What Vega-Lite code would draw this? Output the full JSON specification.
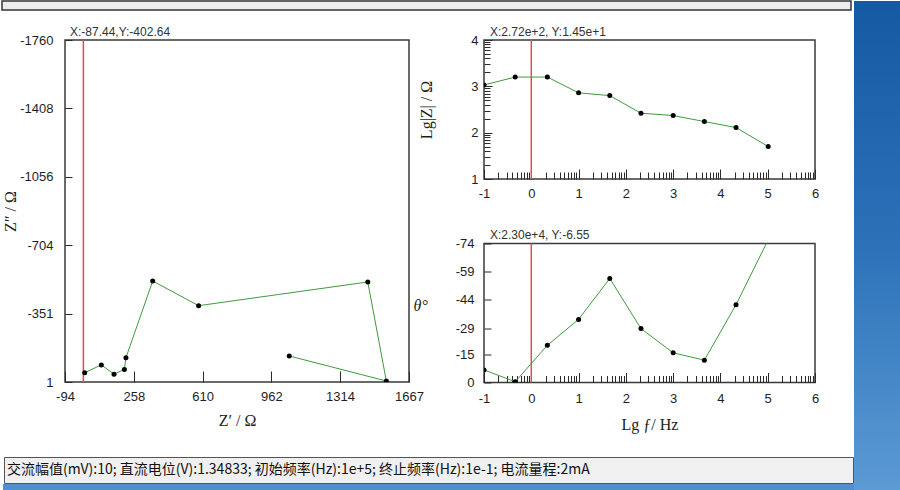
{
  "$schema": "https://vega.github.io/schema/vega-lite/v6.json",
  "padding": 0,
  "background": "#ffffff",
  "spacing": 0,
  "config": {
    "view": {"stroke": "#3a3a3a", "strokeWidth": 1.5},
    "axis": {
      "domain": false, "grid": false,
      "labelFont": "Liberation Sans", "labelFontSize": 13, "labelColor": "#1e1e1e",
      "labelOverlap": false, "labelFlush": false,
      "tickColor": "#2a2a2a", "tickWidth": 1,
      "titleFont": "Liberation Serif", "titleFontSize": 16, "titleFontWeight": "normal", "titleColor": "#1e1e1e",
      "labelExpr": "datum.value + ''"
    },
    "title": {"font": "Liberation Sans", "fontSize": 12, "fontWeight": "normal", "color": "#333333", "anchor": "start", "frame": "group", "offset": -4.5}
  },
  "datasets": {
    "eis": [
      {"lgf": 5.01, "zre": 6.8, "zim": -47, "lgz": 1.70, "phase": -76},
      {"lgf": 4.33, "zre": 92, "zim": -87, "lgz": 2.11, "phase": -41.4},
      {"lgf": 3.66, "zre": 157, "zim": -39, "lgz": 2.24, "phase": -11.9},
      {"lgf": 3.0, "zre": 210, "zim": -64, "lgz": 2.37, "phase": -15.8},
      {"lgf": 2.32, "zre": 218, "zim": -124, "lgz": 2.42, "phase": -28.7},
      {"lgf": 1.66, "zre": 355, "zim": -519, "lgz": 2.80, "phase": -55.4},
      {"lgf": 1.0, "zre": 590, "zim": -392, "lgz": 2.86, "phase": -33.6},
      {"lgf": 0.34, "zre": 1456, "zim": -514, "lgz": 3.20, "phase": -19.8},
      {"lgf": -0.34, "zre": 1551, "zim": -4, "lgz": 3.20, "phase": -0.4},
      {"lgf": -1.0, "zre": 1054, "zim": -133, "lgz": 3.03, "phase": -6.7}
    ],
    "blank": [{}]
  },
  "hconcat": [
    {
      "concat": [
        {"width": 1, "height": 1, "view": {"stroke": null}, "data": {"name": "blank"}, "mark": {"type": "text", "fontSize": 0}, "encoding": {"text": {"value": ""}}},
        {
          "width": 849, "height": 9,
          "view": {"fill": "#ececec", "stroke": "#333333", "strokeWidth": 1.5},
          "data": {"name": "blank"},
          "mark": {"type": "text", "fontSize": 0},
          "encoding": {"text": {"value": ""}}
        },
        {"width": 1, "height": 1, "view": {"stroke": null}, "data": {"name": "blank"}, "mark": {"type": "text", "fontSize": 0}, "encoding": {"text": {"value": ""}}},
        {
          "concat": [
            {"width": 1, "height": 1, "view": {"stroke": null}, "data": {"name": "blank"}, "mark": {"type": "text", "fontSize": 0}, "encoding": {"text": {"value": ""}}},
            {
              "spacing": -13,
              "hconcat": [
                {
                  "width": 344, "height": 342,
                  "title": {"text": "X:-87.44,Y:-402.64", "dx": 5},
                  "data": {"name": "eis"},
                  "layer": [
                    {
                      "data": {"name": "blank"},
                      "mark": {"type": "rule", "color": "#dc4c5c", "strokeWidth": 1.5},
                      "encoding": {"x": {"datum": 0, "type": "quantitative"}}
                    },
                    {
                      "mark": {"type": "line", "color": "#3f9a3f", "strokeWidth": 1, "clip": true},
                      "encoding": {
                        "x": {"field": "zre", "type": "quantitative",
                              "scale": {"domain": [-94, 1667], "nice": false, "zero": false},
                              "axis": {"title": "Z′  /  Ω", "values": [-94, 258, 610, 962, 1314, 1667], "tickCount": 100,
                                       "labelOverlap": false, "labelFlush": false,
                                       "tickSize": -11, "labelPadding": 19, "titlePadding": 9.5}},
                        "y": {"field": "zim", "type": "quantitative",
                              "scale": {"domain": [1, -1760], "nice": false, "zero": false},
                              "axis": {"title": "Z″  /  Ω", "values": [-1760, -1408, -1056, -704, -351, 1], "tickCount": 100,
                                       "labelOverlap": false,
                                       "tickSize": -7, "labelPadding": 19, "titlePadding": 1}},
                        "order": {"field": "lgf", "sort": "descending"}
                      }
                    },
                    {
                      "mark": {"type": "circle", "color": "#000000", "size": 25, "opacity": 1, "clip": true},
                      "encoding": {
                        "x": {"field": "zre", "type": "quantitative"},
                        "y": {"field": "zim", "type": "quantitative"}
                      }
                    }
                  ]
                },
                {
                  "spacing": 23.5,
                  "vconcat": [
                    {
                      "width": 331, "height": 139,
                      "title": {"text": "X:2.72e+2, Y:1.45e+1", "dx": 6},
                      "data": {"name": "eis"},
                      "layer": [
                        {
                          "data": {"name": "blank"},
                          "mark": {"type": "rule", "color": "#dc4c5c", "strokeWidth": 1.5},
                          "encoding": {"x": {"datum": 0, "type": "quantitative"}}
                        },
                        {
                          "mark": {"type": "line", "color": "#3f9a3f", "strokeWidth": 1, "clip": true},
                          "encoding": {
                            "x": {"field": "lgf", "type": "quantitative",
                                  "scale": {"domain": [-1, 6], "nice": false, "zero": false},
                                  "axis": {"title": null, "tickCount": 100,
                                           "values": [-1, -0.69897, -0.52288, -0.39794, -0.30103, -0.22185, -0.1549, -0.09691, -0.04576,
                                                      0, 0.30103, 0.47712, 0.60206, 0.69897, 0.77815, 0.8451, 0.90309, 0.95424,
                                                      1, 1.30103, 1.47712, 1.60206, 1.69897, 1.77815, 1.8451, 1.90309, 1.95424,
                                                      2, 2.30103, 2.47712, 2.60206, 2.69897, 2.77815, 2.8451, 2.90309, 2.95424,
                                                      3, 3.30103, 3.47712, 3.60206, 3.69897, 3.77815, 3.8451, 3.90309, 3.95424,
                                                      4, 4.30103, 4.47712, 4.60206, 4.69897, 4.77815, 4.8451, 4.90309, 4.95424,
                                                      5, 5.30103, 5.47712, 5.60206, 5.69897, 5.77815, 5.8451, 5.90309, 5.95424, 6],
                                           "labelOverlap": false, "labelFlush": false,
                                           "tickSize": {"condition": {"test": "datum.value % 1 === 0", "value": -10}, "value": -7},
                                           "labelPadding": 18,
                                           "labelExpr": "datum.value % 1 === 0 ? datum.value + '' : ''"}},
                            "y": {"field": "lgz", "type": "quantitative",
                                  "scale": {"domain": [1, 4], "nice": false, "zero": false},
                                  "axis": {"title": "Lg|Z|  /  Ω", "tickCount": 100,
                                           "values": [1, 1.30103, 1.47712, 1.60206, 1.69897, 1.77815, 1.8451, 1.90309, 1.95424,
                                                      2, 2.30103, 2.47712, 2.60206, 2.69897, 2.77815, 2.8451, 2.90309, 2.95424,
                                                      3, 3.30103, 3.47712, 3.60206, 3.69897, 3.77815, 3.8451, 3.90309, 3.95424, 4],
                                           "labelOverlap": false,
                                           "tickSize": {"condition": {"test": "datum.value % 1 === 0", "value": -8}, "value": -6},
                                           "labelPadding": 14, "titlePadding": 36,
                                           "labelExpr": "datum.value % 1 === 0 ? datum.value + '' : ''"}}
                          }
                        },
                        {
                          "mark": {"type": "circle", "color": "#000000", "size": 25, "opacity": 1, "clip": true},
                          "encoding": {
                            "x": {"field": "lgf", "type": "quantitative"},
                            "y": {"field": "lgz", "type": "quantitative"}
                          }
                        }
                      ]
                    },
                    {
                      "width": 331, "height": 139,
                      "title": {"text": "X:2.30e+4, Y:-6.55", "dx": 6},
                      "data": {"name": "eis"},
                      "layer": [
                        {
                          "data": {"name": "blank"},
                          "mark": {"type": "rule", "color": "#dc4c5c", "strokeWidth": 1.5},
                          "encoding": {"x": {"datum": 0, "type": "quantitative"}}
                        },
                        {
                          "mark": {"type": "line", "color": "#3f9a3f", "strokeWidth": 1, "clip": true},
                          "encoding": {
                            "x": {"field": "lgf", "type": "quantitative",
                                  "scale": {"domain": [-1, 6], "nice": false, "zero": false},
                                  "axis": {"title": "Lg  ƒ/  Hz", "tickCount": 100,
                                           "values": [-1, -0.69897, -0.52288, -0.39794, -0.30103, -0.22185, -0.1549, -0.09691, -0.04576,
                                                      0, 0.30103, 0.47712, 0.60206, 0.69897, 0.77815, 0.8451, 0.90309, 0.95424,
                                                      1, 1.30103, 1.47712, 1.60206, 1.69897, 1.77815, 1.8451, 1.90309, 1.95424,
                                                      2, 2.30103, 2.47712, 2.60206, 2.69897, 2.77815, 2.8451, 2.90309, 2.95424,
                                                      3, 3.30103, 3.47712, 3.60206, 3.69897, 3.77815, 3.8451, 3.90309, 3.95424,
                                                      4, 4.30103, 4.47712, 4.60206, 4.69897, 4.77815, 4.8451, 4.90309, 4.95424,
                                                      5, 5.30103, 5.47712, 5.60206, 5.69897, 5.77815, 5.8451, 5.90309, 5.95424, 6],
                                           "labelOverlap": false, "labelFlush": false,
                                           "tickSize": {"condition": {"test": "datum.value % 1 === 0", "value": -10}, "value": -7},
                                           "labelPadding": 20, "titlePadding": 8,
                                           "labelExpr": "datum.value % 1 === 0 ? datum.value + '' : ''"}},
                            "y": {"field": "phase", "type": "quantitative",
                                  "scale": {"domain": [0, -74], "nice": false, "zero": false},
                                  "axis": {"title": "θ°", "titleAngle": 0, "titleFontStyle": "italic", "tickCount": 100,
                                           "values": [0, -15, -29, -44, -59, -74],
                                           "labelOverlap": false,
                                           "tickSize": -7, "labelPadding": 17, "titlePadding": 35}}
                          }
                        },
                        {
                          "mark": {"type": "circle", "color": "#000000", "size": 25, "opacity": 1, "clip": true},
                          "encoding": {
                            "x": {"field": "lgf", "type": "quantitative"},
                            "y": {"field": "phase", "type": "quantitative"}
                          }
                        }
                      ]
                    }
                  ]
                }
              ]
            },
            {"width": 1, "height": 1, "view": {"stroke": null}, "data": {"name": "blank"}, "mark": {"type": "text", "fontSize": 0}, "encoding": {"text": {"value": ""}}},
            {
              "concat": [
                {"width": 1, "height": 1, "view": {"stroke": null}, "data": {"name": "blank"}, "mark": {"type": "text", "fontSize": 0}, "encoding": {"text": {"value": ""}}},
                {
                  "width": 849, "height": 26,
                  "view": {"fill": "#f0f0f0", "stroke": "#555555", "strokeWidth": 1},
                  "data": {"values": [{"s": "交流幅值(mV):10; 直流电位(V):1.34833; 初始频率(Hz):1e+5; 终止频率(Hz):1e-1; 电流量程:2mA"}]},
                  "mark": {"type": "text", "align": "left", "baseline": "middle", "dx": 3, "font": "Noto Sans CJK SC", "fontSize": 14, "color": "#111111"},
                  "encoding": {
                    "text": {"field": "s"},
                    "x": {"datum": 0, "type": "quantitative", "scale": {"domain": [0, 1]}, "axis": null},
                    "y": {"datum": 0.5, "type": "quantitative", "scale": {"domain": [0, 1]}, "axis": null}
                  }
                },
                {"width": 1, "height": 1, "view": {"stroke": null}, "data": {"name": "blank"}, "mark": {"type": "text", "fontSize": 0}, "encoding": {"text": {"value": ""}}},
                {
                  "width": 851, "height": 9,
                  "view": {"fill": "#4f8fcf", "stroke": null},
                  "data": {"name": "blank"},
                  "mark": {"type": "text", "fontSize": 0},
                  "encoding": {"text": {"value": ""}}
                }
              ],
              "columns": 2, "align": "none", "spacing": {"row": 0, "column": 0}
            }
          ],
          "columns": 2, "align": "none", "spacing": {"row": 22, "column": 0}
        }
      ],
      "columns": 2, "align": "none", "spacing": {"row": 13, "column": 0}
    },
    {
      "width": 49, "height": 490,
      "view": {"stroke": null},
      "data": {"name": "blank"},
      "mark": {"type": "rect", "color": {"gradient": "linear", "x1": 0, "y1": 0, "x2": 0, "y2": 1,
                                          "stops": [{"offset": 0, "color": "#145aa3"}, {"offset": 0.5, "color": "#2c72b9"}, {"offset": 1, "color": "#5c9bd4"}]}},
      "encoding": {
        "x": {"datum": 0, "type": "quantitative", "scale": {"domain": [0, 1], "nice": false}, "axis": null},
        "x2": {"datum": 1},
        "y": {"datum": 0, "type": "quantitative", "scale": {"domain": [0, 1], "nice": false}, "axis": null},
        "y2": {"datum": 1}
      }
    }
  ]
}
